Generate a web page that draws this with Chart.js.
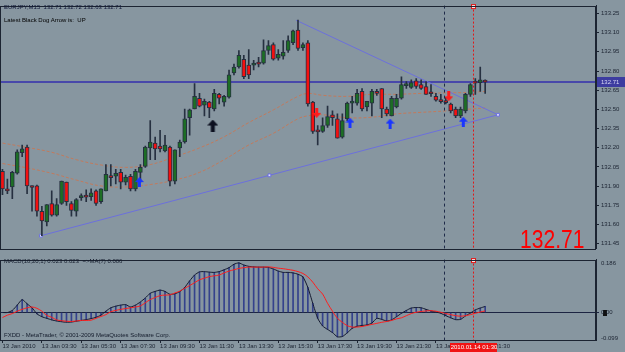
<!DOCTYPE html>
<html>
<head>
<meta charset="utf-8">
<script src="https://cdn.jsdelivr.net/npm/chart.js@4.4.1/dist/chart.umd.min.js"></script>
<style>
  html, body { margin: 0; padding: 0; background: #8796a0; }
  #wrap { position: relative; width: 625px; height: 352px; overflow: hidden; background: #8796a0; font-family: 'Liberation Sans', Arial, sans-serif; }
  #main { position: absolute; left: 0; top: 0; }
  #macd { position: absolute; left: 0; top: 254px; }
  .t { position: absolute; white-space: nowrap; font-size: 6px; line-height: 7px; color: #141c2c; }
  #bigPrice { position: absolute; left: 520px; top: 224px; font-size: 26px; line-height: 30px; color: #ff0000; transform: scaleX(0.81); transform-origin: 0 0; }
</style>
</head>
<body>
<div id="wrap">
  <canvas id="main" width="625" height="254"></canvas>
  <canvas id="macd" width="625" height="98"></canvas>
  <div class="t" style="left:4px;top:4px;color:#101838">EURJPY,M15&nbsp; 132.71 132.72 132.63 132.71</div>
  <div class="t" style="left:4px;top:17px;color:#000">Latest Black Dog Arrow is:&nbsp; UP</div>
  <div class="t" style="left:4px;top:258px">MACD(10,20,1) 0.023 0.023 &nbsp;=&gt;MA(7) 0.006</div>
  <div class="t" style="left:4px;top:332px">FXDD - MetaTrader, © 2001-2009 MetaQuotes Software Corp.</div>
  <div id="bigPrice">132.71</div>
</div>
<script>
// EURJPY M15, 13 Jan 2010 01:30 onwards
const opens = [132.016,131.879,131.894,132.001,132.161,132.206,131.894,131.902,131.704,131.620,
  131.765,131.673,131.765,131.932,131.765,131.704,131.810,131.822,131.818,131.864,
  131.780,131.864,131.974,131.978,132.008,131.932,131.978,131.879,132.008,132.054,
  132.199,132.237,132.214,132.176,132.206,131.940,132.199,132.245,132.435,132.503,
  132.587,132.534,132.557,132.503,132.618,132.557,132.595,132.785,132.831,132.892,
  132.846,132.846,132.869,132.861,132.960,133.006,132.900,132.915,132.960,133.021,
  133.120,132.983,133.021,132.557,132.332,132.328,132.374,132.458,132.427,132.283,
  132.427,132.549,132.549,132.641,132.519,132.549,132.641,132.663,132.503,132.450,
  132.519,132.587,132.686,132.671,132.724,132.694,132.679,132.629,132.602,132.568,
  132.564,132.542,132.503,132.450,132.488,132.618,132.709,132.709,132.717];
const highs = [132.031,131.955,132.016,132.184,132.222,132.222,131.902,131.909,131.742,131.757,
  131.864,131.803,131.940,131.932,131.780,131.803,131.841,131.871,131.879,131.871,
  131.879,132.069,132.069,132.031,132.031,131.986,131.993,132.031,132.069,132.214,
  132.412,132.283,132.336,132.298,132.214,132.184,132.260,132.503,132.503,132.701,
  132.625,132.580,132.564,132.656,132.625,132.610,132.808,132.854,132.960,132.922,
  132.968,132.884,132.907,133.044,133.037,133.021,132.968,133.037,133.075,133.120,
  133.197,133.021,133.037,132.564,132.374,132.435,132.526,132.488,132.465,132.465,
  132.557,132.602,132.656,132.663,132.564,132.656,132.656,132.663,132.519,132.602,
  132.618,132.755,132.717,132.732,132.740,132.732,132.717,132.694,132.625,132.618,
  132.595,132.549,132.519,132.519,132.625,132.701,132.740,132.831,132.732];
const lows = [131.833,131.841,131.803,131.993,132.130,131.841,131.704,131.666,131.513,131.590,
  131.666,131.666,131.757,131.749,131.666,131.666,131.788,131.780,131.788,131.749,
  131.765,131.864,131.902,131.917,131.879,131.909,131.864,131.864,131.932,132.047,
  132.107,132.107,132.168,132.168,131.902,131.917,132.130,132.237,132.298,132.503,
  132.519,132.450,132.435,132.488,132.542,132.526,132.587,132.770,132.823,132.740,
  132.740,132.808,132.831,132.854,132.930,132.884,132.884,132.892,132.945,133.006,
  132.960,132.960,132.526,132.313,132.222,132.321,132.359,132.374,132.275,132.275,
  132.412,132.473,132.534,132.488,132.488,132.450,132.610,132.435,132.450,132.450,
  132.511,132.580,132.663,132.663,132.663,132.656,132.618,132.602,132.564,132.549,
  132.542,132.473,132.435,132.435,132.473,132.602,132.618,132.641,132.625];
const closes = [131.879,131.864,132.008,132.168,132.191,131.902,131.890,131.704,131.628,131.757,
  131.673,131.757,131.940,131.780,131.711,131.795,131.826,131.814,131.848,131.765,
  131.879,131.993,131.967,132.001,131.932,131.970,131.879,132.016,132.047,132.206,
  132.245,132.191,132.191,132.222,131.940,132.184,132.245,132.427,132.496,132.602,
  132.526,132.564,132.511,132.625,132.587,132.602,132.770,132.831,132.922,132.755,
  132.770,132.861,132.854,132.960,132.999,132.892,132.930,132.945,133.037,133.113,
  132.976,133.006,132.542,132.328,132.324,132.374,132.443,132.435,132.275,132.412,
  132.549,132.564,132.625,132.503,132.564,132.641,132.625,132.503,132.465,132.587,
  132.587,132.694,132.701,132.709,132.679,132.663,132.618,132.622,132.572,132.561,
  132.553,132.488,132.450,132.503,132.618,132.694,132.705,132.732,132.713];

// two orange envelope averages, read at some bars
const maIdx = [0,5,10,15,20,25,30,35,40,45,50,55,60,62,65,70,75,80,85,90,95,98];
const maUpper = [132.237,132.203,132.165,132.107,132.066,132.047,132.069,132.130,132.199,132.286,132.397,132.496,132.602,132.625,132.610,132.602,132.618,132.618,132.625,132.629,132.633,132.641];
const maLower = [132.077,132.043,132.001,131.948,131.902,131.894,131.913,131.948,132.008,132.107,132.222,132.313,132.427,132.450,132.458,132.435,132.439,132.465,132.477,132.488,132.503,132.511];

// MACD histogram / line and MA(7) signal
const macdHist = [0.000,0.000,0.008,0.028,0.049,0.033,0.018,-0.005,-0.016,-0.022,
  -0.028,-0.032,-0.035,-0.037,-0.036,-0.033,-0.030,-0.027,-0.023,-0.018,
  -0.010,0.005,0.018,0.024,0.028,0.030,0.021,0.028,0.040,0.055,
  0.073,0.080,0.085,0.080,0.069,0.071,0.079,0.095,0.120,0.142,
  0.154,0.155,0.153,0.152,0.155,0.162,0.170,0.183,0.188,0.180,
  0.175,0.173,0.172,0.172,0.171,0.165,0.157,0.152,0.152,0.150,
  0.145,0.135,0.095,0.035,-0.022,-0.051,-0.064,-0.076,-0.092,-0.091,
  -0.077,-0.060,-0.052,-0.049,-0.047,-0.040,-0.022,-0.026,-0.032,-0.028,
  -0.016,-0.003,0.008,0.017,0.019,0.018,0.012,0.006,0.002,-0.003,
  -0.012,-0.020,-0.027,-0.026,-0.013,-0.002,0.010,0.017,0.023];
const macdSignal = [-0.019,-0.010,-0.004,0.005,0.012,0.018,0.021,0.016,0.005,-0.011,
  -0.018,-0.028,-0.031,-0.033,-0.034,-0.032,-0.030,-0.030,-0.029,-0.022,
  -0.015,-0.008,0.003,0.008,0.012,0.015,0.018,0.021,0.025,0.037,
  0.049,0.057,0.064,0.066,0.067,0.074,0.081,0.092,0.102,0.113,
  0.124,0.130,0.136,0.139,0.142,0.150,0.157,0.162,0.167,0.170,
  0.172,0.172,0.172,0.172,0.173,0.171,0.168,0.166,0.163,0.160,
  0.155,0.148,0.135,0.115,0.090,0.070,0.035,0.005,-0.022,-0.037,
  -0.050,-0.055,-0.055,-0.053,-0.049,-0.045,-0.041,-0.037,-0.034,-0.030,
  -0.024,-0.020,-0.012,-0.004,0.001,0.004,0.006,0.007,0.005,0.001,
  -0.004,-0.008,-0.012,-0.014,-0.012,-0.008,-0.003,0.002,0.006];

// signal arrows (bar position, price)
const blueUpIdx = [27.8, 70.55, 78.7, 93.55];
const blueUpPrice = [131.932, 132.397, 132.389, 132.404];
const blackUpIdx = [42.7];
const blackUpPrice = [132.374];
const redDownIdx = [63.8, 90.6];
const redDownPrice = [132.473, 132.602];

// trend lines (bar position, price)
const trendUpIdx = [7.8, 54.2, 100.6];
const trendUpPrice = [131.513, 131.985, 132.458];
const trendDownIdx = [59.6, 100.6];
const trendDownPrice = [133.197, 132.458];

const daySepIdx = 89.7;
const crossIdx = 95.6;
const crossLabel = '2010.01.14 01:30';

const timeIdx = [0, 8, 16, 24, 32, 40, 48, 56, 64, 72, 80, 88, 96];
const timeLabels = ['13 Jan 2010', '13 Jan 03:30', '13 Jan 05:30', '13 Jan 07:30', '13 Jan 09:30', '13 Jan 11:30',
  '13 Jan 13:30', '13 Jan 15:30', '13 Jan 17:30', '13 Jan 19:30', '13 Jan 21:30', '13 Jan 23:30', '14 Jan 01:30'];
const priceTicks = [131.45, 131.60, 131.75, 131.90, 132.05, 132.20, 132.35, 132.50, 132.65, 132.80, 132.95, 133.10, 133.25];
const macdTicks = [-0.099, 0, 0.186];

const BG = '#8796a0';
const AXIS = '#1c2432';
const WICK = '#263040';
const UP = '#1d6e25';
const DOWN = '#f41010';
const ORANGE = '#c27a5c';
const TREND = '#6c70dc';

Chart.defaults.font.family = "'Liberation Sans', Arial, sans-serif";
Chart.defaults.font.size = 6;
Chart.defaults.color = AXIS;
Chart.defaults.animation = false;

const X_MIN = -0.5, X_MAX = 120.5;
const lastClose = closes[closes.length - 1];
const bars = closes.map((_, i) => i);

function arrowImage(color, down, w, h) {
  const c = document.createElement('canvas');
  c.width = w; c.height = h;
  const g = c.getContext('2d');
  g.fillStyle = color;
  if (down) { g.translate(0, h); g.scale(1, -1); }
  const head = Math.round(h * 0.5);
  const stem = Math.max(2, Math.round(w * 0.34));
  g.beginPath();
  g.moveTo(w / 2, 0);
  g.lineTo(w, head);
  g.lineTo((w + stem) / 2, head);
  g.lineTo((w + stem) / 2, h);
  g.lineTo((w - stem) / 2, h);
  g.lineTo((w - stem) / 2, head);
  g.lineTo(0, head);
  g.closePath();
  g.fill();
  return c;
}

function xTo(chart, v) { return chart.scales.x.getPixelForValue(v); }

const vLines = {
  id: 'vLines',
  beforeDraw(chart) {
    const { ctx } = chart;
    ctx.save();
    ctx.fillStyle = BG;
    ctx.fillRect(0, 0, chart.width, chart.height);
    ctx.restore();
  },
  afterDatasetsDraw(chart) {
    const { ctx, chartArea: a } = chart;
    ctx.save();
    ctx.lineWidth = 1;
    ctx.setLineDash([3, 3]);
    ctx.strokeStyle = '#1e2a48';
    let x = Math.round(xTo(chart, daySepIdx)) + 0.5;
    ctx.beginPath(); ctx.moveTo(x, a.top); ctx.lineTo(x, a.bottom); ctx.stroke();
    ctx.setLineDash([2, 2]);
    ctx.strokeStyle = '#e01818';
    x = Math.round(xTo(chart, crossIdx)) + 0.5;
    ctx.beginPath(); ctx.moveTo(x, a.top); ctx.lineTo(x, a.bottom); ctx.stroke();
    ctx.setLineDash([]);
    ctx.fillStyle = '#f4e8e8';
    ctx.fillRect(x - 2, a.top - 1, 4, 4);
    ctx.strokeRect(x - 2, a.top - 1, 4, 4);
    // pane frame
    ctx.strokeStyle = AXIS;
    ctx.strokeRect(Math.round(a.left) + 0.5, Math.round(a.top) + 0.5, Math.round(a.right - a.left) - 1, Math.round(a.bottom - a.top));
    ctx.restore();
  }
};

const priceLine = {
  id: 'priceLine',
  beforeDatasetsDraw(chart) {
    const { ctx, chartArea: a } = chart;
    const y = chart.scales.y.getPixelForValue(lastClose);
    ctx.save();
    ctx.fillStyle = '#4848aa';
    ctx.fillRect(a.left, Math.round(y) - 1, a.right - a.left, 2);
    ctx.restore();
  },
  afterDraw(chart) {
    const { ctx, chartArea: a } = chart;
    const y = Math.round(chart.scales.y.getPixelForValue(lastClose));
    ctx.save();
    ctx.fillStyle = '#3c3ca0';
    ctx.fillRect(a.right + 1, y - 5, chart.width - a.right - 1, 10);
    ctx.fillStyle = '#d8d8f4';
    ctx.font = "6px 'Liberation Sans', Arial, sans-serif";
    ctx.textBaseline = 'middle';
    ctx.fillText(lastClose.toFixed(2), a.right + 5, y + 0.5);
    ctx.restore();
  }
};

const yAxisCommon = {
  position: 'right',
  grid: { drawOnChartArea: false, drawTicks: true, tickLength: 3, color: AXIS },
  border: { display: true, color: AXIS },
  ticks: { padding: 2, autoSkip: false, font: { size: 6 }, color: AXIS },
  afterFit(s) { s.width = 29; }
};

new Chart(document.getElementById('main'), {
  type: 'bar',
  data: {
    datasets: [
      { type: 'line', data: maIdx.map((v, k) => ({ x: v, y: maUpper[k] })), borderColor: ORANGE, borderWidth: 1, borderDash: [3, 2], pointRadius: 0, tension: 0.4, order: 6 },
      { type: 'line', data: maIdx.map((v, k) => ({ x: v, y: maLower[k] })), borderColor: ORANGE, borderWidth: 1, borderDash: [3, 2], pointRadius: 0, tension: 0.4, order: 6 },
      { type: 'line', data: trendUpIdx.map((v, k) => ({ x: v, y: trendUpPrice[k] })), borderColor: TREND, borderWidth: 1, pointRadius: 2, pointStyle: 'rect', pointBackgroundColor: '#dcdcff', pointBorderColor: TREND, pointBorderWidth: 1, order: 5 },
      { type: 'line', data: trendDownIdx.map((v, k) => ({ x: v, y: trendDownPrice[k] })), borderColor: TREND, borderWidth: 1, pointRadius: 0, order: 5 },
      { label: 'wick', data: bars.map(i => ({ x: i, y: [lows[i], highs[i]] })), backgroundColor: WICK, barThickness: 1, stack: 'c', order: 4 },
      { label: 'body', data: bars.map(i => ({ x: i, y: [opens[i], closes[i]] })),
        backgroundColor: bars.map(i => closes[i] >= opens[i] ? UP : DOWN),
        borderColor: WICK, borderWidth: 1, borderSkipped: false, barThickness: 4, minBarLength: 2, stack: 'c', order: 3 },
      { type: 'scatter', data: blueUpIdx.map((v, k) => ({ x: v, y: blueUpPrice[k] })), pointStyle: arrowImage('#1a36ff', false, 9, 10), order: 1 },
      { type: 'scatter', data: blackUpIdx.map((v, k) => ({ x: v, y: blackUpPrice[k] })), pointStyle: arrowImage('#0c1020', false, 11, 12), order: 1 },
      { type: 'scatter', data: redDownIdx.map((v, k) => ({ x: v, y: redDownPrice[k] })), pointStyle: arrowImage('#ff1c1c', true, 9, 10), order: 1 }
    ]
  },
  options: {
    responsive: false,
    layout: { autoPadding: false, padding: { top: 2, bottom: 3, left: 0, right: 0 } },
    plugins: { legend: { display: false }, tooltip: { enabled: false } },
    scales: {
      x: { type: 'linear', min: X_MIN, max: X_MAX, offset: false, display: false, grid: { offset: false } },
      y: Object.assign({}, yAxisCommon, {
        min: 131.414, max: 133.311, stacked: false,
        afterBuildTicks(s) { s.ticks = priceTicks.map(v => ({ value: v })); },
        ticks: Object.assign({}, yAxisCommon.ticks, { callback: v => v.toFixed(2) })
      })
    }
  },
  plugins: [vLines, priceLine]
});

const timeBox = {
  id: 'timeBox',
  beforeDraw(chart) {
    const { ctx } = chart;
    const y = chart.scales.y.getPixelForValue(0);
    ctx.save();
    ctx.fillStyle = '#101010';
    ctx.fillRect(chart.chartArea.right + 7, Math.round(y) - 3, 4, 6);
    ctx.restore();
  },
  afterDraw(chart) {
    const { ctx, chartArea: a } = chart;
    const x = Math.round(xTo(chart, crossIdx));
    ctx.save();
    ctx.fillStyle = '#f01414';
    ctx.fillRect(x - 23, a.bottom + 3, 47, chart.height - a.bottom - 3);
    ctx.fillStyle = '#ffffff';
    ctx.font = "6px 'Liberation Sans', Arial, sans-serif";
    ctx.textAlign = 'center';
    ctx.textBaseline = 'middle';
    ctx.fillText(crossLabel, x + 1, a.bottom + 7.5);
    ctx.restore();
  }
};

new Chart(document.getElementById('macd'), {
  type: 'bar',
  data: {
    datasets: [
      { type: 'line', data: bars.map(i => ({ x: i, y: macdSignal[i] })), borderColor: '#ff1e1e', borderWidth: 1, pointRadius: 0, tension: 0.3, order: 1 },
      { type: 'line', data: bars.map(i => ({ x: i, y: macdHist[i] })), borderColor: '#141a30', borderWidth: 1, pointRadius: 0, tension: 0.2, order: 2 },
      { data: bars.map(i => ({ x: i, y: macdHist[i] })), backgroundColor: '#34428c', barThickness: 1, order: 3 }
    ]
  },
  options: {
    responsive: false,
    layout: { autoPadding: false, padding: { top: 2, bottom: 0, left: 0, right: 0 } },
    plugins: { legend: { display: false }, tooltip: { enabled: false } },
    scales: {
      x: {
        type: 'linear', min: X_MIN, max: X_MAX, offset: false,
        grid: { offset: false, drawOnChartArea: false, drawTicks: true, tickLength: 3, color: AXIS },
        border: { display: true, color: AXIS },
        afterBuildTicks(s) { s.ticks = timeIdx.map(v => ({ value: v })); },
        ticks: { autoSkip: false, maxRotation: 0, minRotation: 0, align: 'start', padding: 0, font: { size: 6 }, color: AXIS,
          callback: (v, i) => timeLabels[i] },
        afterFit(s) { s.height = 12; }
      },
      y: Object.assign({}, yAxisCommon, {
        min: -0.1041, max: 0.2005,
        afterBuildTicks(s) { s.ticks = macdTicks.map(v => ({ value: v })); },
        grid: { drawOnChartArea: true, drawTicks: true, tickLength: 3,
          color: c => (c.tick && c.tick.value === 0) ? '#1c2442' : 'rgba(0,0,0,0)' },
        ticks: Object.assign({}, yAxisCommon.ticks, { callback: v => v === 0 ? '0.00' : v.toFixed(3) })
      })
    }
  },
  plugins: [vLines, timeBox]
});
</script>
</body>
</html>
